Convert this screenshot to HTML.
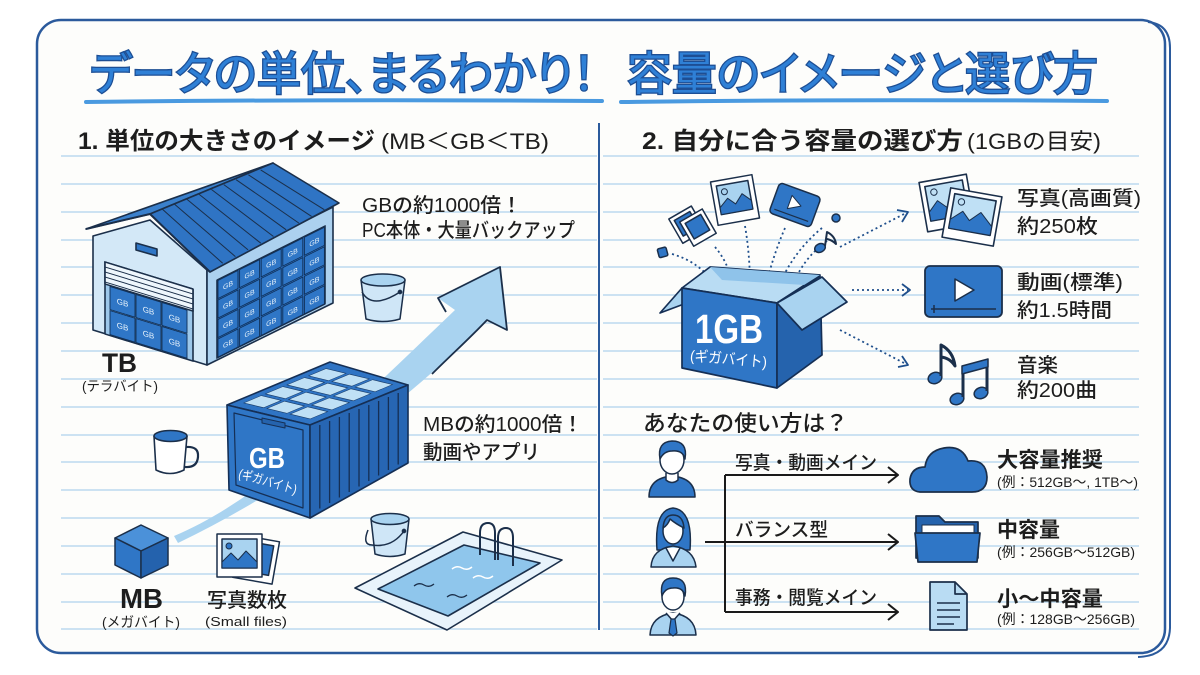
<!DOCTYPE html>
<html lang="ja">
<head>
<meta charset="utf-8">
<style>
  html,body{margin:0;padding:0;background:#fff;}
  svg{display:block;}
  text{font-family:"Liberation Sans","Noto Sans CJK JP",sans-serif;}
  .ttl{font-feature-settings:"palt";}
</style>
</head>
<body>
<svg width="1200" height="675" viewBox="0 0 1200 675" xmlns="http://www.w3.org/2000/svg">
  <rect width="1200" height="675" fill="#ffffff"/>
  <!-- frame -->
  <rect x="37" y="20" width="1128" height="633" rx="24" fill="#fdfdfb" stroke="#2b5a9c" stroke-width="2.5"/>
  <path d="M1148,22 Q1170,24 1170,48 L1170,628 Q1169,656 1138,657" fill="none" stroke="#2b5a9c" stroke-width="2"/>

  <!-- ruled lines -->
  <path stroke="#bcdaf0" stroke-width="1.5" fill="none" d="
  M61,156H597 M603,156H1139
  M61,184H597 M603,184H1139
  M61,212H597 M603,212H1139
  M61,240H597 M603,240H1139
  M61,267H597 M603,267H1139
  M61,295H597 M603,295H1139
  M61,323H597 M603,323H1139
  M61,351H597 M603,351H1139
  M61,379H597 M603,379H1139
  M61,407H597 M603,407H1139
  M61,435H597 M603,435H1139
  M61,462H597 M603,462H1139
  M61,490H597 M603,490H1139
  M61,518H597 M603,518H1139
  M61,546H597 M603,546H1139
  M61,574H597 M603,574H1139
  M61,602H597 M603,602H1139
  M61,629H597 M603,629H1139"/>

  <!-- divider -->
  <path d="M599,123 L599,630" stroke="#2b5a9c" stroke-width="2"/>

  <!-- titles -->
  <text class="ttl" x="90" y="90" font-size="46" font-weight="400" fill="#2f80d6" stroke="#1d4e94" stroke-width="2.6" paint-order="stroke" textLength="505" lengthAdjust="spacingAndGlyphs">データの単位、まるわかり！</text>
  <text class="ttl" x="627" y="90" font-size="46" font-weight="400" fill="#2f80d6" stroke="#1d4e94" stroke-width="2.6" paint-order="stroke" textLength="471" lengthAdjust="spacingAndGlyphs">容量のイメージと選び方</text>
  <path d="M86,102 Q340,99 602,101" stroke="#4a9ae0" stroke-width="4" fill="none" stroke-linecap="round"/>
  <path d="M621,102 Q860,99 1107,101" stroke="#4a9ae0" stroke-width="4" fill="none" stroke-linecap="round"/>

  <!-- section headers -->
  <text x="78" y="149" font-size="24" font-weight="700" fill="#1d1d1d" textLength="297" lengthAdjust="spacingAndGlyphs">1. 単位の大きさのイメージ</text>
  <text x="381" y="149" font-size="22" font-weight="400" fill="#1d1d1d" textLength="168" lengthAdjust="spacingAndGlyphs">(MB＜GB＜TB)</text>
  <text x="642" y="149" font-size="24" font-weight="700" fill="#1d1d1d" textLength="321" lengthAdjust="spacingAndGlyphs">2. 自分に合う容量の選び方</text>
  <text x="967" y="149" font-size="22" font-weight="400" fill="#1d1d1d" textLength="134" lengthAdjust="spacingAndGlyphs">(1GBの目安)</text>

  <!-- ============ LEFT SECTION ============ -->
  <!-- arrow (behind container) -->
  <path d="M174,536 C260,500 340,420 455,310 L438,298 L500,267 L507,330 L487,320 C450,360 330,470 178,543 Z" fill="#a9d3f0"/>
  <path d="M446,312 L438,298 L500,267 L507,330 L487,320 C470,338 450,356 432,374" fill="none" stroke="#1b2f4a" stroke-width="1.8" stroke-linejoin="round"/>

  <!-- warehouse -->
  <g stroke="#1b2f4a" stroke-width="1.6" stroke-linejoin="round">
    <polygon points="93,236 150,220 207,270 207,365 93,330" fill="#d3e8f7"/>
    <polygon points="207,270 333,207 333,303 207,365" fill="#acd1ef"/>
    <!-- side opening with boxes -->
    <g transform="matrix(1,-0.5,0,1,217,280)">
      <rect x="0" y="0" width="108" height="78" fill="#2d70c0"/>
      <g fill="#2f76c6" stroke="#0f2f57" stroke-width="0.9">
        <rect x="1" y="1" width="20" height="18"/><rect x="22.6" y="1" width="20" height="18"/><rect x="44.2" y="1" width="20" height="18"/><rect x="65.8" y="1" width="20" height="18"/><rect x="87.4" y="1" width="20" height="18"/>
        <rect x="1" y="20.5" width="20" height="18"/><rect x="22.6" y="20.5" width="20" height="18"/><rect x="44.2" y="20.5" width="20" height="18"/><rect x="65.8" y="20.5" width="20" height="18"/><rect x="87.4" y="20.5" width="20" height="18"/>
        <rect x="1" y="40" width="20" height="18"/><rect x="22.6" y="40" width="20" height="18"/><rect x="44.2" y="40" width="20" height="18"/><rect x="65.8" y="40" width="20" height="18"/><rect x="87.4" y="40" width="20" height="18"/>
        <rect x="1" y="59.5" width="20" height="18"/><rect x="22.6" y="59.5" width="20" height="18"/><rect x="44.2" y="59.5" width="20" height="18"/><rect x="65.8" y="59.5" width="20" height="18"/><rect x="87.4" y="59.5" width="20" height="18"/>
      </g>
      <g fill="#e8f3fc" stroke="none" font-size="7" text-anchor="middle">
        <text x="11" y="13">GB</text><text x="32.6" y="13">GB</text><text x="54.2" y="13">GB</text><text x="75.8" y="13">GB</text><text x="97.4" y="13">GB</text>
        <text x="11" y="32.5">GB</text><text x="32.6" y="32.5">GB</text><text x="54.2" y="32.5">GB</text><text x="75.8" y="32.5">GB</text><text x="97.4" y="32.5">GB</text>
        <text x="11" y="52">GB</text><text x="32.6" y="52">GB</text><text x="54.2" y="52">GB</text><text x="75.8" y="52">GB</text><text x="97.4" y="52">GB</text>
        <text x="11" y="71.5">GB</text><text x="32.6" y="71.5">GB</text><text x="54.2" y="71.5">GB</text><text x="75.8" y="71.5">GB</text><text x="97.4" y="71.5">GB</text>
      </g>
    </g>
    <!-- front door -->
    <g transform="matrix(1,0.307,0,1,105,262)">
      <rect x="0" y="0" width="88" height="72" fill="#9cc7ea"/>
      <rect x="0" y="0" width="88" height="22" fill="#eef6fc"/>
      <path d="M0,5H88 M0,10H88 M0,15H88 M0,20H88" stroke-width="1"/>
      <g fill="#2f76c6" stroke="#0f2f57" stroke-width="0.9">
        <rect x="5" y="23" width="25" height="23"/><rect x="31" y="23" width="25" height="23"/><rect x="57" y="23" width="25" height="23"/>
        <rect x="5" y="47" width="25" height="24"/><rect x="31" y="47" width="25" height="24"/><rect x="57" y="47" width="25" height="24"/>
      </g>
      <g fill="#e8f3fc" stroke="none" font-size="8" text-anchor="middle">
        <text x="17.5" y="38">GB</text><text x="43.5" y="38">GB</text><text x="69.5" y="38">GB</text>
        <text x="17.5" y="62">GB</text><text x="43.5" y="62">GB</text><text x="69.5" y="62">GB</text>
      </g>
    </g>
    <polygon points="136,243 157,249 157,256 136,250" fill="#2f76c6"/>
    <!-- roof -->
    <polygon points="86,229 273,163 150,214" fill="#3a80cc"/>
    <polygon points="150,214 273,163 339,203 210,272" fill="#2f74c4"/>
    <path d="M86,229 L150,214 L210,272" fill="none" stroke-width="2"/>
    <path stroke-width="1" d="M162.3,209.1L222.7,263.3 M174.6,204.2L235.4,256.6 M186.9,199.3L248.1,249.9 M199.2,194.4L260.8,243.2 M211.5,189.5L273.5,236.5 M223.8,184.6L286.2,229.8 M236.1,179.7L298.9,223.1 M248.4,174.8L311.6,216.4 M260.7,169.9L324.3,209.7"/>
  </g>
  <text x="102" y="372" font-size="27" font-weight="700" fill="#1d1d1d" textLength="35" lengthAdjust="spacingAndGlyphs">TB</text>
  <text x="82" y="391" font-size="14" fill="#1d1d1d" textLength="76" lengthAdjust="spacingAndGlyphs">(テラバイト)</text>

  <!-- bucket 1 -->
  <g stroke="#1b2f4a" stroke-width="1.5" stroke-linejoin="round">
    <path d="M361,280 L366,319 Q383,324 400,319 L405,280 Z" fill="#cfe6f7"/>
    <ellipse cx="383" cy="280" rx="22" ry="6" fill="#a9d3f0"/>
    <path d="M362,292 Q372,310 400,292" fill="none"/>
    <circle cx="400" cy="292" r="1.6" fill="#1b2f4a"/>
  </g>

  <!-- mug -->
  <g stroke="#1b2f4a" stroke-width="1.6" stroke-linejoin="round">
    <path d="M186,447 Q199,446 198,457 Q197,468 185,467" fill="none" stroke-width="2.2"/>
    <path d="M154,436 L156,470 Q170,477 184,470 L187,436 Z" fill="#ffffff"/>
    <ellipse cx="170.5" cy="436" rx="16.5" ry="5.5" fill="#2f76c6"/>
  </g>

  <!-- container (GB) -->
  <g stroke="#152f55" stroke-width="1.6" stroke-linejoin="round">
    <polygon points="227,405 330,362 408,385 310,425" fill="#2f74c4"/>
    <g transform="matrix(0.83,0.2,1.03,-0.43,227,405)" fill="#bfe0f5" stroke="#1b3e6b" stroke-width="1">
      <rect x="9" y="9" width="24" height="17"/><rect x="37" y="9" width="24" height="17"/><rect x="65" y="9" width="24" height="17"/>
      <rect x="9" y="30" width="24" height="17"/><rect x="37" y="30" width="24" height="17"/><rect x="65" y="30" width="24" height="17"/>
      <rect x="9" y="51" width="24" height="17"/><rect x="37" y="51" width="24" height="17"/><rect x="65" y="51" width="24" height="17"/>
      <rect x="9" y="72" width="24" height="17"/><rect x="37" y="72" width="24" height="17"/><rect x="65" y="72" width="24" height="17"/>
    </g>
    <polygon points="227,405 310,425 310,518 229,490" fill="#2f76c6"/>
    <polygon points="234,413 303,430 303,508 236,485" fill="none" stroke-width="1.2"/>
    <polygon points="262,418 285,423 285,428 262,423" fill="#2563ad" stroke-width="1"/>
    <polygon points="310,425 408,385 408,463 310,518" fill="#2766b3"/>
    <path stroke-width="1.3" d="M319.8,425V508.5 M329.6,421V503 M339.4,417V497.5 M349.2,413V492 M359,409V486.5 M368.8,405V481 M378.6,401V475.5 M388.4,397V470 M398.2,393V464.5"/>
  </g>
  <text x="249" y="468" font-size="29" font-weight="700" fill="#ffffff" textLength="36" lengthAdjust="spacingAndGlyphs">GB</text>
  <text x="238" y="486" font-size="13" fill="#ffffff" textLength="60" lengthAdjust="spacingAndGlyphs" transform="rotate(16,268,481)">(ギガバイト)</text>

  <text x="362" y="212" font-size="20" font-weight="500" fill="#1d1d1d" textLength="160" lengthAdjust="spacingAndGlyphs">GBの約1000倍！</text>
  <text x="362" y="237" font-size="20" font-weight="500" fill="#1d1d1d" textLength="213" lengthAdjust="spacingAndGlyphs">PC本体・大量バックアップ</text>
  <text x="423" y="431" font-size="20" font-weight="500" fill="#1d1d1d" textLength="160" lengthAdjust="spacingAndGlyphs">MBの約1000倍！</text>
  <text x="423" y="459" font-size="20" font-weight="500" fill="#1d1d1d" textLength="117" lengthAdjust="spacingAndGlyphs">動画やアプリ</text>

  <!-- bucket 2 -->
  <g stroke="#1b2f4a" stroke-width="1.5" stroke-linejoin="round">
    <path d="M371,519 L375,554 Q390,559 405,554 L409,519 Z" fill="#cfe6f7"/>
    <ellipse cx="390" cy="519" rx="19" ry="5.5" fill="#a9d3f0"/>
    <path d="M368,530 Q362,545 372,545 Q392,548 404,531" fill="none"/>
    <circle cx="404" cy="531" r="1.6" fill="#1b2f4a"/>
  </g>

  <!-- pool -->
  <g stroke="#1b2f4a" stroke-width="1.6" stroke-linejoin="round">
    <polygon points="355,588 463,532 562,560 447,630" fill="#e8f3fb"/>
    <polygon points="378,589 464,545 540,563 448,616" fill="#8fc6ec"/>
    <path d="M414,586 Q419,582 424,585 Q429,588 434,584" fill="none" stroke-width="1.3"/>
    <path d="M447,597 Q452,593 457,596 Q462,599 467,595" fill="none" stroke-width="1.3"/>
    <path d="M452,569 Q457,565 462,568 Q467,571 472,567" fill="none" stroke="#ffffff" stroke-width="1.5"/>
    <path d="M473,578 Q478,574 483,577 Q488,580 493,576" fill="none" stroke="#ffffff" stroke-width="1.5"/>
    <path d="M480,555 L480,533 Q480,523 488,523 Q495,523 495,533 L495,560" fill="none" stroke-width="2"/>
    <path d="M498,560 L498,538 Q498,528 506,528 Q513,528 513,538 L513,566" fill="none" stroke-width="2"/>
  </g>

  <!-- MB cube -->
  <g stroke="#1b2f4a" stroke-width="1.5" stroke-linejoin="round">
    <polygon points="141,525 168,538 141,551 115,538" fill="#4b91d9"/>
    <polygon points="115,538 141,551 141,578 115,565" fill="#2f76c6"/>
    <polygon points="141,551 168,538 168,565 141,578" fill="#2462ad"/>
  </g>
  <text x="120" y="608" font-size="28" font-weight="700" fill="#1d1d1d" textLength="43" lengthAdjust="spacingAndGlyphs">MB</text>
  <text x="102" y="627" font-size="14" fill="#1d1d1d" textLength="78" lengthAdjust="spacingAndGlyphs">(メガバイト)</text>

  <!-- small photos -->
  <g stroke="#1b2f4a" stroke-width="1.5" stroke-linejoin="round">
    <g transform="rotate(10,256,560)">
      <rect x="236" y="538" width="40" height="43" fill="#ffffff"/>
      <rect x="241" y="543" width="30" height="30" fill="#2f76c6"/>
    </g>
    <rect x="217" y="534" width="45" height="43" fill="#ffffff"/>
    <rect x="222" y="539" width="35" height="29" fill="#a9d3f0"/>
    <path d="M222,568 L222,562 L231,553 L238,560 L246,551 L257,562 L257,568 Z" fill="#2f76c6" stroke-width="1"/>
    <circle cx="229" cy="546" r="3" fill="#2f76c6" stroke-width="1"/>
  </g>
  <text x="207" y="607" font-size="20" font-weight="500" fill="#1d1d1d" textLength="80" lengthAdjust="spacingAndGlyphs">写真数枚</text>
  <text x="205" y="626" font-size="13" fill="#1d1d1d" textLength="82" lengthAdjust="spacingAndGlyphs">(Small files)</text>

  <!-- ============ RIGHT SECTION ============ -->
  <!-- dotted lines from box -->
  <g stroke="#1f4f8c" stroke-width="1.8" stroke-dasharray="2 3" fill="none">
    <path d="M672,254 Q700,262 715,285"/>
    <path d="M715,247 Q728,262 733,285"/>
    <path d="M745,226 Q750,255 750,287"/>
    <path d="M785,228 Q772,258 765,290"/>
    <path d="M827,241 Q803,258 792,287"/>
    <path d="M822,228 Q795,250 780,283"/>
    <path d="M840,247 L906,213"/>
    <path d="M852,290 L908,290"/>
    <path d="M840,330 L906,364"/>
  </g>
  <g stroke="#1f4f8c" stroke-width="1.8" fill="none" stroke-linejoin="round">
    <path d="M897,210 L908,212 L902,222"/>
    <path d="M902,284 L910,290 L902,296"/>
    <path d="M902,356 L908,365 L898,367"/>
  </g>

  <!-- floating items -->
  <g stroke="#1b2f4a" stroke-width="1.5" stroke-linejoin="round">
    <rect x="658" y="248" width="9" height="9" rx="1.5" fill="#2f76c6" transform="rotate(-15,662,252)"/>
    <g transform="rotate(-30,693,227)">
      <rect x="676" y="208" width="26" height="28" fill="#ffffff"/>
      <rect x="680" y="212" width="18" height="18" fill="#2f76c6"/>
      <rect x="684" y="216" width="26" height="28" fill="#ffffff"/>
      <rect x="688" y="220" width="18" height="18" fill="#2f76c6"/>
    </g>
    <g transform="rotate(-10,735,200)">
      <rect x="714" y="178" width="42" height="44" fill="#ffffff"/>
      <rect x="719" y="183" width="32" height="29" fill="#a9d3f0"/>
      <path d="M719,212 L719,205 L728,197 L735,204 L743,195 L751,203 L751,212 Z" fill="#2f76c6" stroke-width="1"/>
      <circle cx="726" cy="190" r="3" fill="#a9d3f0" stroke-width="1"/>
    </g>
    <g transform="rotate(20,795,205)">
      <rect x="773" y="189" width="44" height="32" rx="4" fill="#2f76c6"/>
      <polygon points="789,197 789,211 801,204" fill="#ffffff" stroke-width="1"/>
      <path d="M777,216 L813,216" stroke-width="1.2"/>
    </g>
    <circle cx="836" cy="218" r="4" fill="#2f76c6"/>
    <g fill="#2f76c6">
      <ellipse cx="820" cy="248" rx="5.5" ry="4.2" transform="rotate(-25,820,248)"/>
      <path d="M825,246 L827,232 Q835,236 836,244 Q832,240 827,239" fill="none" stroke-width="2"/>
    </g>
  </g>

  <!-- open box -->
  <g stroke="#152f55" stroke-width="1.7" stroke-linejoin="round">
    <polygon points="682,288 710,267 820,275 777,303" fill="#b9dcf3"/>
    <polygon points="710,267 820,275 805,285 722,280" fill="#8fc3ea" stroke="none"/>
    <polygon points="682,288 660,313 684,304" fill="#a9d3f0"/>
    <polygon points="682,288 777,303 777,388 682,368" fill="#2f76c6"/>
    <polygon points="777,303 820,276 822,355 777,388" fill="#2563ad"/>
    <polygon points="777,303 822,277 847,302 802,330" fill="#a9d3f0"/>
  </g>
  <text x="695" y="343" font-size="41" font-weight="700" fill="#ffffff" textLength="68" lengthAdjust="spacingAndGlyphs">1GB</text>
  <text x="690" y="364" font-size="15" fill="#ffffff" textLength="77" lengthAdjust="spacingAndGlyphs" transform="rotate(5,728,360)">(ギガバイト)</text>

  <!-- photo pair icon -->
  <g stroke="#1b2f4a" stroke-width="1.6" stroke-linejoin="round">
    <g transform="rotate(-10,947,203)">
      <rect x="923" y="178" width="48" height="50" fill="#ffffff"/>
      <rect x="928" y="183" width="38" height="35" fill="#bfe0f5"/>
      <path d="M928,218 L928,209 L938,199 L946,207 L955,198 L966,209 L966,218 Z" fill="#2f76c6" stroke-width="1"/>
      <circle cx="936" cy="190" r="3.2" fill="#bfe0f5" stroke-width="1"/>
    </g>
    <g transform="rotate(10,972,217)">
      <rect x="946" y="192" width="52" height="50" fill="#ffffff"/>
      <rect x="951" y="197" width="42" height="35" fill="#bfe0f5"/>
      <path d="M951,232 L951,223 L962,213 L970,221 L980,211 L993,223 L993,232 Z" fill="#2f76c6" stroke-width="1"/>
      <circle cx="959" cy="204" r="3.2" fill="#bfe0f5" stroke-width="1"/>
    </g>
  </g>
  <!-- video icon -->
  <g stroke="#1b2f4a" stroke-width="1.8" stroke-linejoin="round">
    <rect x="925" y="266" width="77" height="51" rx="5" fill="#2f76c6"/>
    <polygon points="955,279 955,301 974,290" fill="#ffffff" stroke-width="1.5"/>
    <path d="M931,309 L996,309" stroke-width="1.5"/>
    <path d="M934,305 L934,313" stroke-width="1.5"/>
  </g>
  <!-- music notes -->
  <g stroke="#1b2f4a" stroke-width="1.5" fill="#2f76c6" stroke-linejoin="round">
    <ellipse cx="935" cy="378" rx="7" ry="5.5" transform="rotate(-20,935,378)"/>
    <path d="M941,376 L941,345 Q953,351 955,366 Q950,358 941,357" fill="none" stroke-width="3"/>
    <ellipse cx="957" cy="399" rx="7" ry="5.5" transform="rotate(-20,957,399)"/>
    <ellipse cx="981" cy="393" rx="7" ry="5.5" transform="rotate(-20,981,393)"/>
    <path d="M963,397 L963,367 M987,391 L987,361" fill="none" stroke-width="3"/>
    <polygon points="962,366 988,359 988,367 962,374"/>
  </g>

  <text x="1017" y="205" font-size="20" font-weight="500" fill="#1d1d1d" textLength="124" lengthAdjust="spacingAndGlyphs">写真(高画質)</text>
  <text x="1017" y="233" font-size="20" font-weight="500" fill="#1d1d1d" textLength="81" lengthAdjust="spacingAndGlyphs">約250枚</text>
  <text x="1017" y="289" font-size="20" font-weight="500" fill="#1d1d1d" textLength="106" lengthAdjust="spacingAndGlyphs">動画(標準)</text>
  <text x="1017" y="317" font-size="20" font-weight="500" fill="#1d1d1d" textLength="95" lengthAdjust="spacingAndGlyphs">約1.5時間</text>
  <text x="1017" y="372" font-size="20" font-weight="500" fill="#1d1d1d" textLength="41" lengthAdjust="spacingAndGlyphs">音楽</text>
  <text x="1017" y="397" font-size="20" font-weight="500" fill="#1d1d1d" textLength="80" lengthAdjust="spacingAndGlyphs">約200曲</text>

  <text x="643" y="431" font-size="22" font-weight="500" fill="#1d1d1d" textLength="205" lengthAdjust="spacingAndGlyphs">あなたの使い方は？</text>

  <!-- people -->
  <g stroke="#1b2f4a" stroke-width="1.5" stroke-linejoin="round">
    <!-- person 1 -->
    <path d="M649,497 Q649,478 672,476 Q695,478 695,497 Z" fill="#2f76c6"/>
    <path d="M666,473 L666,480 Q672,485 678,480 L678,473" fill="#ffffff"/>
    <ellipse cx="672" cy="460" rx="12" ry="14" fill="#ffffff"/>
    <path d="M660,459 Q657,442 672,441 Q688,441 685,459 Q683,450 672,451 Q664,451 660,459 Z" fill="#2f76c6"/>
    <!-- person 2 -->
    <path d="M657,550 Q654,510 673,508 Q693,510 690,550 Z" fill="#2f76c6"/>
    <path d="M651,567 Q652,549 673,546 Q694,549 696,567 Z" fill="#a9d3f0"/>
    <path d="M666,548 L673,561 L680,548" fill="#ffffff"/>
    <ellipse cx="673" cy="531" rx="10" ry="13" fill="#ffffff"/>
    <path d="M663,528 Q664,515 673,515 Q683,515 684,528 Q676,524 670,519 Q668,525 663,528 Z" fill="#2f76c6"/>
    <!-- person 3 -->
    <path d="M650,635 Q651,616 673,613 Q695,616 696,635 Z" fill="#a9d3f0"/>
    <path d="M666,613 L673,621 L680,613" fill="#ffffff"/>
    <path d="M671,619 L675,619 L677,633 L673,636 L669,633 Z" fill="#2f76c6" stroke-width="1.2"/>
    <ellipse cx="673" cy="597" rx="11" ry="13" fill="#ffffff"/>
    <path d="M662,596 Q659,578 673,578 Q688,578 685,596 Q683,587 673,588 Q665,588 662,596 Z" fill="#2f76c6"/>
  </g>

  <!-- connectors -->
  <g stroke="#1a1a1a" stroke-width="2" fill="none" stroke-linejoin="round">
    <path d="M705,542 L897,542"/>
    <path d="M725,475 L725,612"/>
    <path d="M725,475 L897,475"/>
    <path d="M725,612 L897,612"/>
    <path d="M888,467 L898,475 L888,483"/>
    <path d="M888,534 L898,542 L888,550"/>
    <path d="M888,604 L898,612 L888,620"/>
  </g>
  <text x="735" y="469" font-size="19" font-weight="500" fill="#1d1d1d" textLength="142" lengthAdjust="spacingAndGlyphs">写真・動画メイン</text>
  <text x="735" y="536" font-size="19" font-weight="500" fill="#1d1d1d" textLength="93" lengthAdjust="spacingAndGlyphs">バランス型</text>
  <text x="735" y="604" font-size="19" font-weight="500" fill="#1d1d1d" textLength="142" lengthAdjust="spacingAndGlyphs">事務・閲覧メイン</text>

  <!-- cloud, folder, doc -->
  <g stroke="#1b2f4a" stroke-width="1.7" stroke-linejoin="round">
    <path d="M920,492 Q909,491 910,479 Q912,467 925,467 Q927,451 944,448 Q962,445 968,461 Q986,459 987,477 Q987,492 972,492 Z" fill="#2f76c6"/>
    <path d="M916,516 L939,516 L945,522 L978,522 L978,558 L916,558 Z" fill="#2563ad"/>
    <rect x="922" y="525" width="52" height="10" fill="#ffffff" stroke-width="1"/>
    <path d="M915,533 L980,533 L977,562 L918,562 Z" fill="#2f76c6"/>
    <path d="M930,582 L955,582 L967,594 L967,630 L930,630 Z" fill="#b9dcf3"/>
    <path d="M955,582 L955,594 L967,594" fill="none"/>
    <path d="M937,603 H960 M937,610 H960 M937,617 H960 M937,624 H954" stroke-width="1.4"/>
  </g>

  <text x="997" y="467" font-size="21" font-weight="700" fill="#1d1d1d" textLength="106" lengthAdjust="spacingAndGlyphs">大容量推奨</text>
  <text x="997" y="487" font-size="14" fill="#1d1d1d" textLength="141" lengthAdjust="spacingAndGlyphs">(例：512GB〜, 1TB〜)</text>
  <text x="997" y="537" font-size="21" font-weight="700" fill="#1d1d1d" textLength="63" lengthAdjust="spacingAndGlyphs">中容量</text>
  <text x="997" y="557" font-size="14" fill="#1d1d1d" textLength="138" lengthAdjust="spacingAndGlyphs">(例：256GB〜512GB)</text>
  <text x="997" y="606" font-size="21" font-weight="700" fill="#1d1d1d" textLength="106" lengthAdjust="spacingAndGlyphs">小〜中容量</text>
  <text x="997" y="624" font-size="14" fill="#1d1d1d" textLength="138" lengthAdjust="spacingAndGlyphs">(例：128GB〜256GB)</text>
</svg>
</body>
</html>
